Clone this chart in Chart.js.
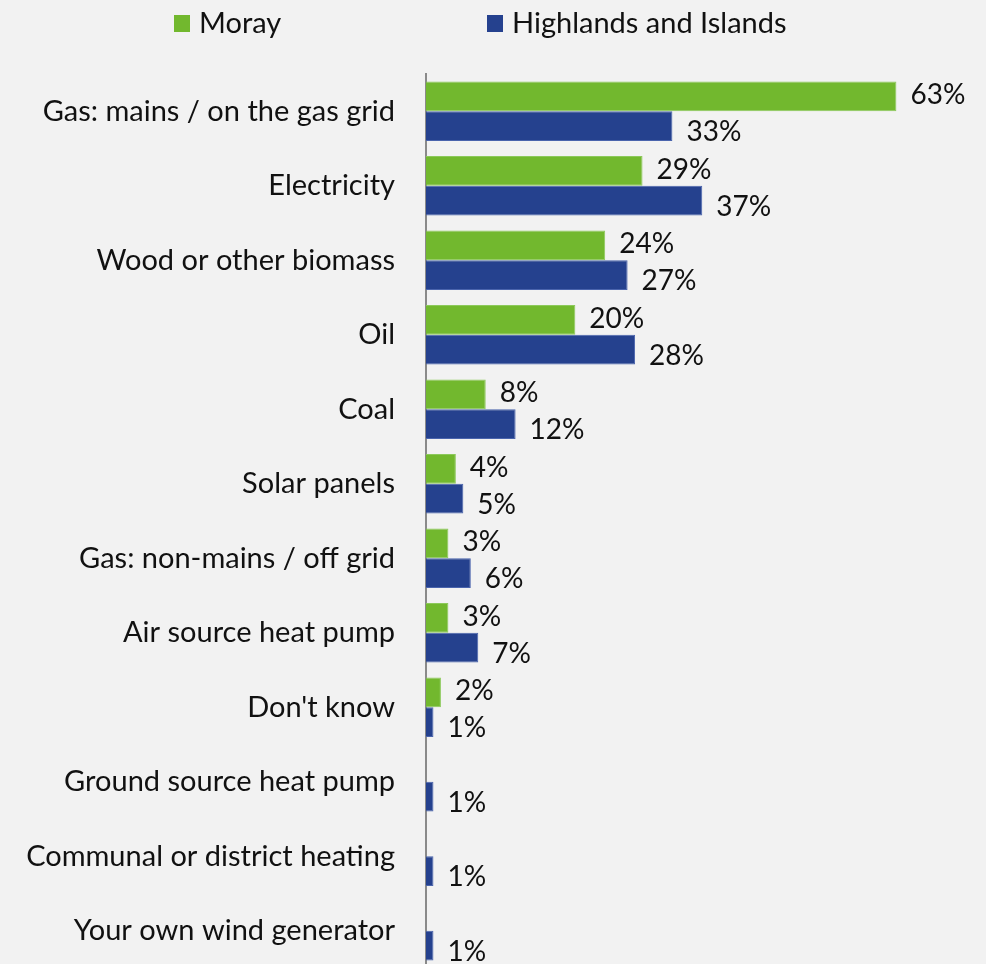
<!DOCTYPE html>
<html>
<head>
<meta charset="utf-8">
<title>Heating sources</title>
<script src="https://cdn.jsdelivr.net/npm/chart.js@4.4.1/dist/chart.umd.min.js"></script>
<style>
  html, body { margin: 0; padding: 0; background: #f2f2f2; overflow: hidden; }
  canvas { display: block; }
</style>
</head>
<body>
<canvas id="heatingChart" width="986" height="974"></canvas>
<script>
// heating sources, % of respondents
const categories = [
  'Gas: mains / on the gas grid',
  'Electricity',
  'Wood or other biomass',
  'Oil',
  'Coal',
  'Solar panels',
  'Gas: non-mains / off grid',
  'Air source heat pump',
  "Don't know",
  'Ground source heat pump',
  'Communal or district heating',
  'Your own wind generator'
];
const morayValues = [63, 29, 24, 20, 8, 4, 3, 3, 2, null, null, null];
const highlandsValues = [33, 37, 27, 28, 12, 5, 6, 7, 1, 1, 1, 1];
const seriesNames = ['Moray', 'Highlands and Islands'];
const seriesColors = ['#72b82e', '#25418e'];

const FONT = "Lato, 'Open Sans', sans-serif";
const TEXT = '#111111';

// value labels to the right of each bar
const barLabels = {
  id: 'barLabels',
  afterDatasetsDraw(chart) {
    const ctx = chart.ctx;
    ctx.save();
    ctx.font = '28px ' + FONT;
    ctx.fillStyle = TEXT;
    ctx.textBaseline = 'middle';
    ctx.textAlign = 'left';
    chart.data.datasets.forEach((ds, i) => {
      const meta = chart.getDatasetMeta(i);
      const dy = i === 0 ? -1 : 6;
      meta.data.forEach((bar, j) => {
        const v = ds.data[j];
        if (v == null) return;
        ctx.fillText(v + '%', bar.x + 14, bar.y + dy);
      });
    });
    ctx.restore();
  }
};

// legend along the top, squares + names
const topLegend = {
  id: 'topLegend',
  afterDraw(chart) {
    const ctx = chart.ctx;
    ctx.save();
    ctx.font = '29px ' + FONT;
    ctx.textBaseline = 'middle';
    let x = 174;
    seriesNames.forEach((name, i) => {
      ctx.fillStyle = seriesColors[i];
      ctx.fillRect(x, 15, 16, 17);
      ctx.fillStyle = TEXT;
      ctx.fillText(name, x + 25, 24);
      x += 313;
    });
    ctx.restore();
  }
};

new Chart(document.getElementById('heatingChart'), {
  type: 'bar',
  data: {
    labels: categories,
    datasets: [
      {
        label: seriesNames[0],
        data: morayValues,
        backgroundColor: seriesColors[0],
        borderColor: '#8cc95a',
        borderWidth: 1,
        categoryPercentage: 0.8,
        barPercentage: 1.0
      },
      {
        label: seriesNames[1],
        data: highlandsValues,
        backgroundColor: seriesColors[1],
        borderColor: '#4a64ad',
        borderWidth: 1,
        categoryPercentage: 0.8,
        barPercentage: 1.0
      }
    ]
  },
  options: {
    indexAxis: 'y',
    responsive: false,
    animation: false,
    layout: { padding: { top: 74, right: 0, bottom: 6, left: 0 } },
    plugins: {
      legend: { display: false },
      tooltip: { enabled: false }
    },
    scales: {
      x: {
        display: false,
        min: 0,
        max: 75
      },
      y: {
        grid: { display: false, drawTicks: false },
        border: { display: true, color: '#8a8a8a', width: 2 },
        ticks: {
          color: TEXT,
          font: { family: FONT, size: 29 },
          padding: 31
        },
        afterFit(scale) {
          // fixed axis width; tick padding should not eat vertical space
          scale.width = 426;
          scale.paddingTop = 0;
          scale.paddingBottom = 0;
        }
      }
    }
  },
  plugins: [barLabels, topLegend]
});
</script>
</body>
</html>
